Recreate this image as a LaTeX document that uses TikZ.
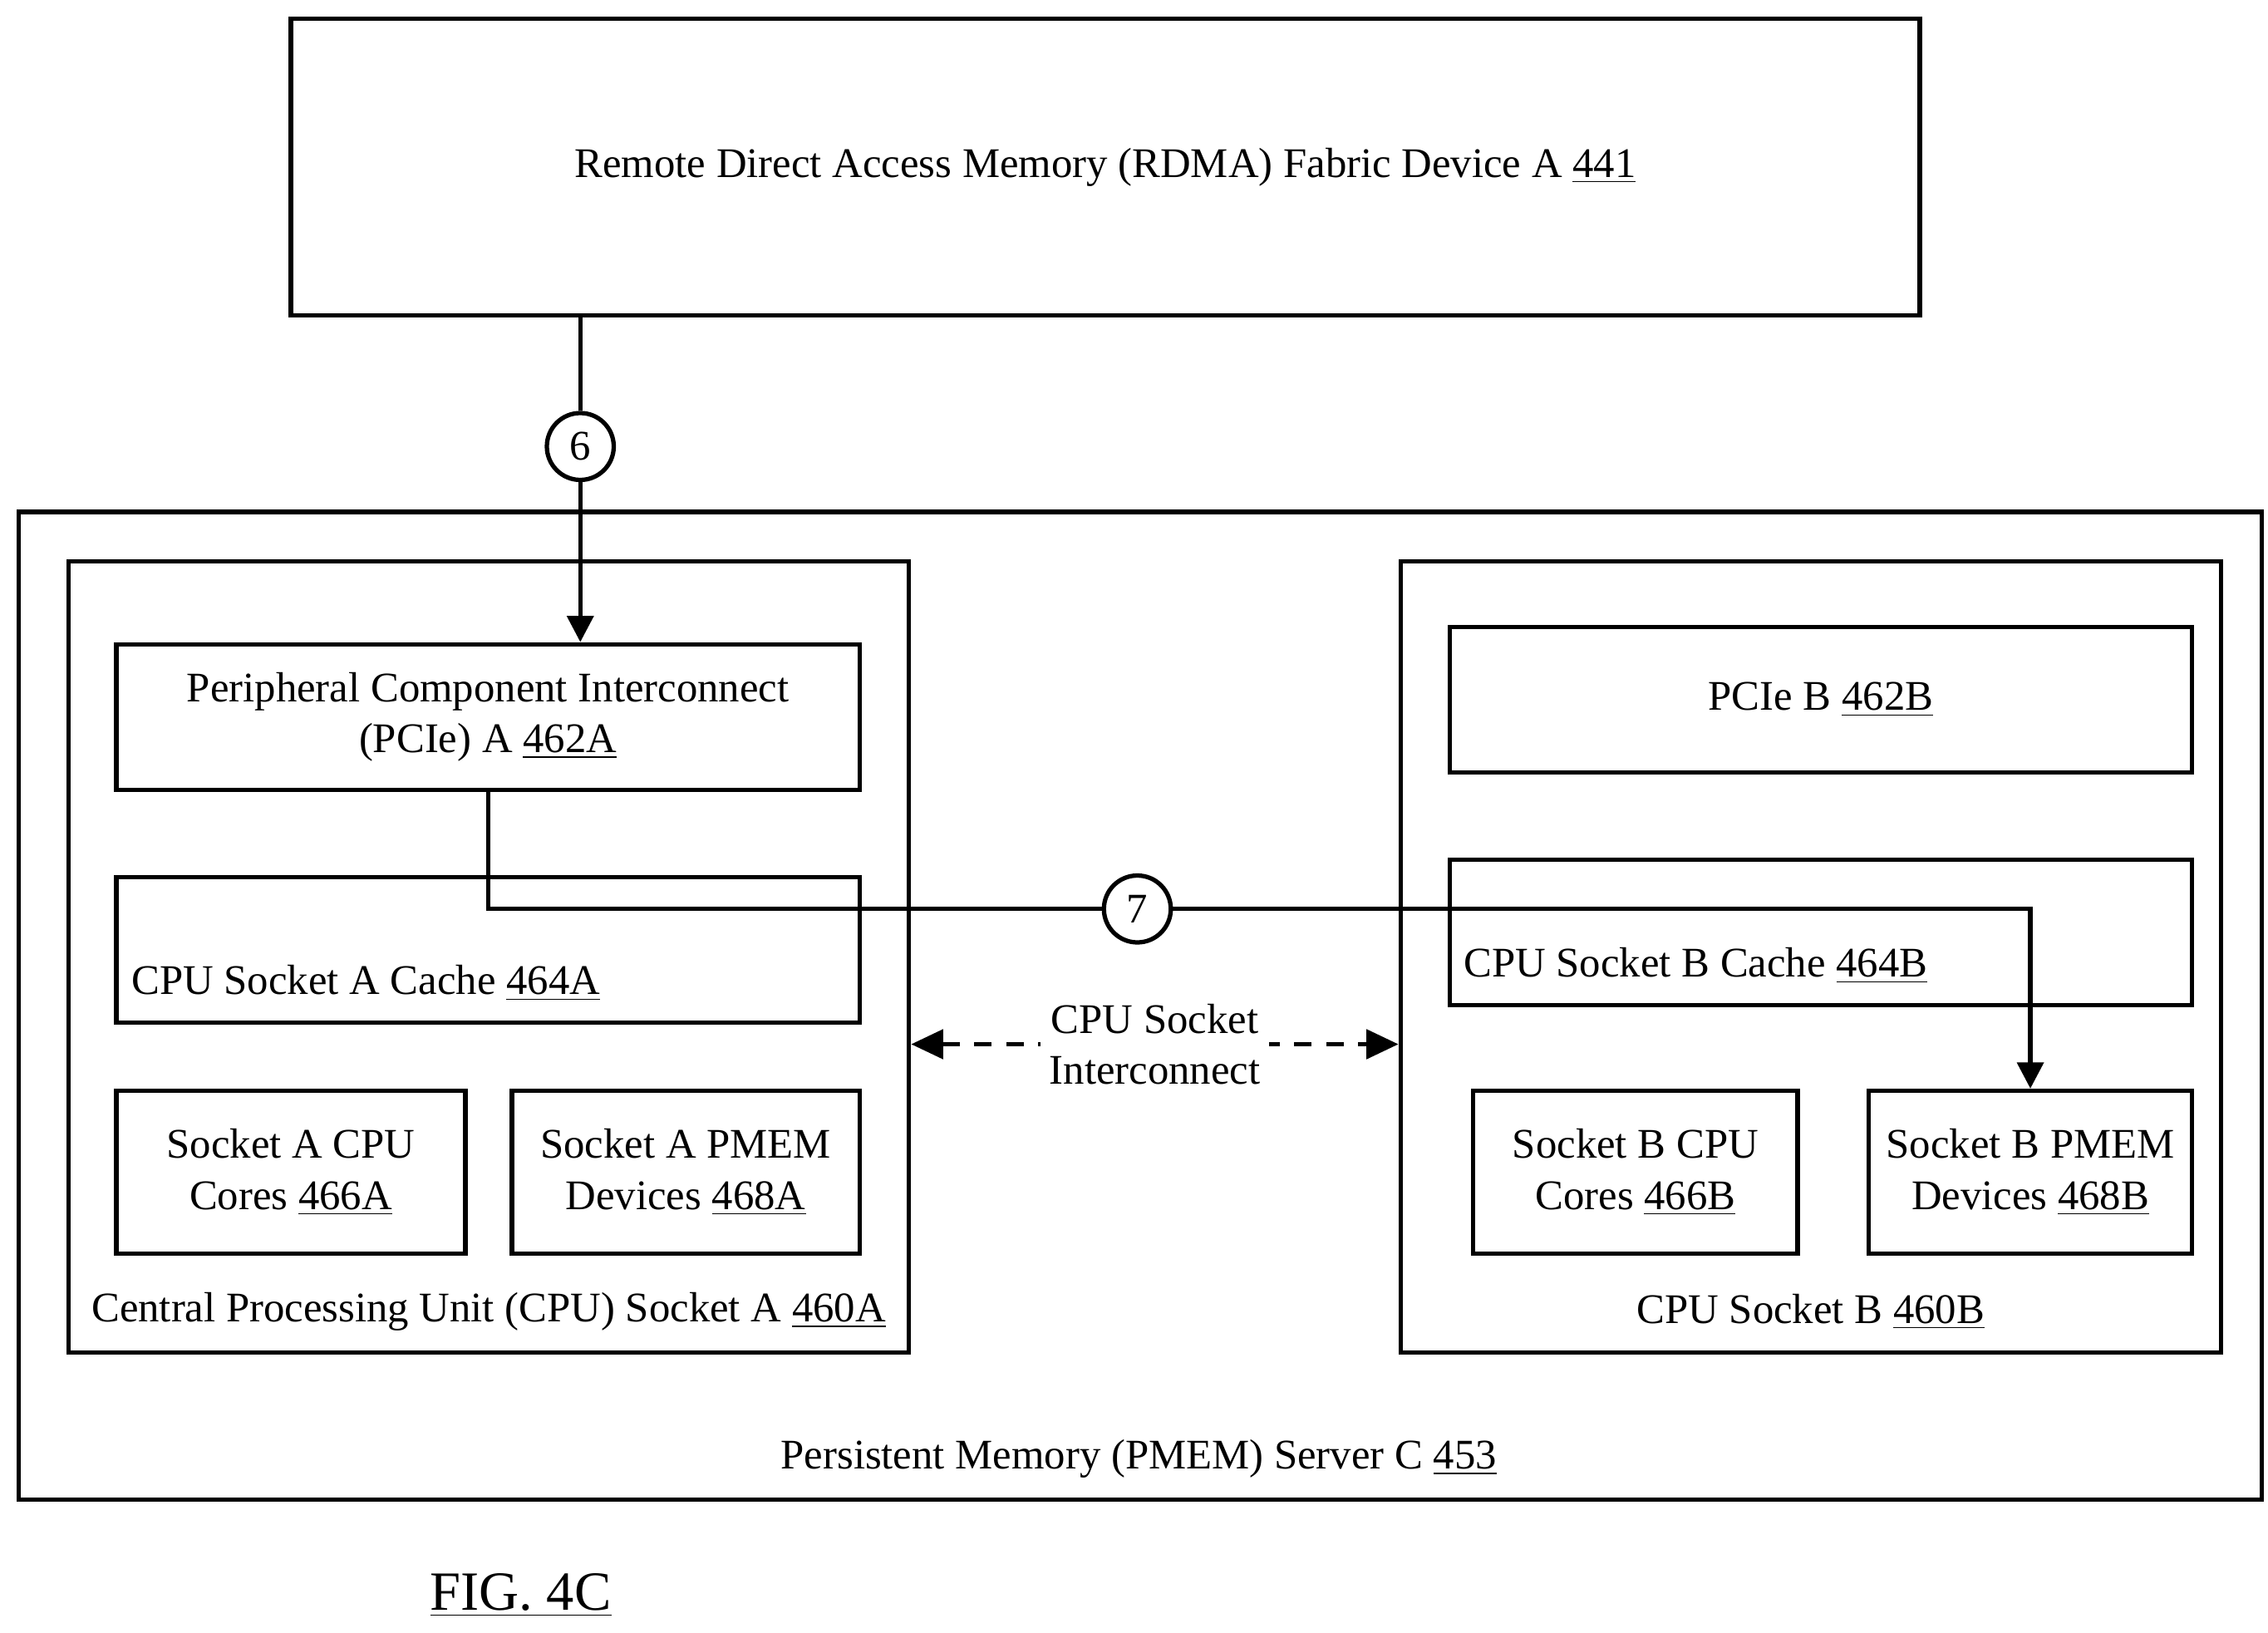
\documentclass[tikz,border=0pt]{standalone}
\usepackage{fontspec}
\setmainfont{Liberation Serif}
\usetikzlibrary{arrows.meta}
\begin{document}
\begin{tikzpicture}[x=0.5pt,y=-0.5pt,
  box/.style={draw,line width=1.5pt,inner sep=0pt},
  lab/.style={font=\fontsize{14.5}{17.5}\selectfont,align=center,inner sep=1pt},
  num/.style={draw,circle,line width=1.5pt,minimum size=23pt,inner sep=0pt,fill=white,font=\fontsize{14.5}{17}\selectfont},
  conn/.style={line width=1.5pt,-{Triangle[width=9pt,length=9pt]}},
  font=\fontsize{14.5}{17.5}\selectfont]
\useasboundingbox (0,0) rectangle (1559.4,1122.3);
\node[box,minimum width=560pt,minimum height=102pt] (rdma) at (760,115) {};
\node[lab] at (760,115) {Remote Direct Access Memory (RDMA) Fabric Device A \underline{441}};
\node[box,minimum width=771pt,minimum height=339.5pt] (server) at (784,691.5) {};
\node[lab] at (783,1003) {Persistent Memory (PMEM) Server C \underline{453}};
\node[box,minimum width=289pt,minimum height=272pt] (sockA) at (336,658) {};
\node[lab] at (336,902) {Central Processing Unit (CPU) Socket A \underline{460A}};
\node[box,minimum width=255.5pt,minimum height=50pt,lab] (pcieA) at (335.5,493) {Peripheral Component Interconnect\\(PCIe) A \underline{462A}};
\node[box,minimum width=255.5pt,minimum height=50pt] (cacheA) at (335.5,653) {};
\node[lab,anchor=west] at (88,676) {CPU Socket A Cache \underline{464A}};
\node[box,minimum width=120pt,minimum height=56pt,lab] (coresA) at (200,806) {Socket A CPU\\Cores \underline{466A}};
\node[box,minimum width=119.5pt,minimum height=56pt,lab] (pmemA) at (471.5,806) {Socket A PMEM\\Devices \underline{468A}};
\node[box,minimum width=282pt,minimum height=272pt] (sockB) at (1245,658) {};
\node[lab] at (1245,902) {CPU Socket B \underline{460B}};
\node[box,minimum width=255pt,minimum height=50pt,lab] (pcieB) at (1252,481) {PCIe B \underline{462B}};
\node[box,minimum width=255pt,minimum height=50pt] (cacheB) at (1252,641) {};
\node[lab,anchor=west] at (1004,664) {CPU Socket B Cache \underline{464B}};
\node[box,minimum width=111.5pt,minimum height=56pt,lab] (coresB) at (1124.5,806) {Socket B CPU\\Cores \underline{466B}};
\node[box,minimum width=111pt,minimum height=56pt,lab] (pmemB) at (1396,806) {Socket B PMEM\\Devices \underline{468B}};
\node[num] (c6) at (399,307) {6};
\node[num] (c7) at (782,625) {7};
\draw[line width=1.5pt] (c6 |- rdma.south) -- (c6);
\draw[conn] (c6) -- (c6 |- pcieA.north);
\draw[line width=1.5pt] (pcieA.south) |- (c7);
\draw[conn] (c7) -| (pmemB.north);
\draw[line width=1.5pt,dashed,dash pattern=on 6pt off 5pt,{Triangle[width=10pt,length=11pt]}-{Triangle[width=10pt,length=11pt]}] ([yshift=-30pt]sockA.east) -- node[fill=white,lab,inner sep=3pt] {CPU Socket\\Interconnect} ([yshift=-30pt]sockB.west);
\node[font=\fontsize{19}{22}\selectfont] (fig) at (358,1097) {\underline{FIG. 4C}};
\end{tikzpicture}
\end{document}
